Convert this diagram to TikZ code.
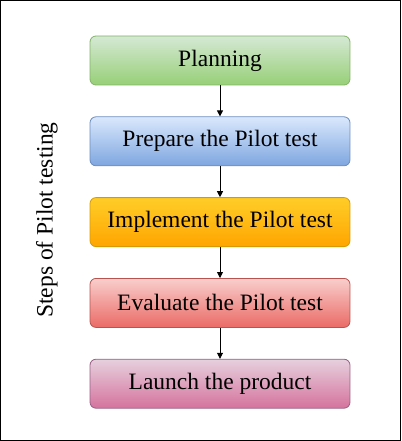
\documentclass[tikz,border=0pt]{standalone}
\usepackage{fontspec}
\setmainfont{Liberation Serif}
\usetikzlibrary{positioning,arrows.meta}
\definecolor{greenT}{HTML}{D5E8D4}\definecolor{greenB}{HTML}{97D077}\definecolor{greenD}{HTML}{82B366}
\definecolor{blueT}{HTML}{DAE8FC}\definecolor{blueB}{HTML}{7EA6E0}\definecolor{blueD}{HTML}{6C8EBF}
\definecolor{orangeT}{HTML}{FFCD28}\definecolor{orangeB}{HTML}{FFA500}\definecolor{orangeD}{HTML}{D79B00}
\definecolor{redT}{HTML}{F8CECC}\definecolor{redB}{HTML}{EA6B66}\definecolor{redD}{HTML}{B85450}
\definecolor{pinkT}{HTML}{E6D0DE}\definecolor{pinkB}{HTML}{D5739D}\definecolor{pinkD}{HTML}{996185}
\tikzset{
  stepbox/.style={rounded corners=6pt, minimum width=260pt, minimum height=49pt,
    font=\fontsize{23.5}{28}\selectfont, line width=0.8pt},
  greenbox/.style={stepbox, draw=greenD, top color=greenT, bottom color=greenB},
  bluebox/.style={stepbox, draw=blueD, top color=blueT, bottom color=blueB},
  orangebox/.style={stepbox, draw=orangeD, top color=orangeT, bottom color=orangeB},
  redbox/.style={stepbox, draw=redD, top color=redT, bottom color=redB},
  pinkbox/.style={stepbox, draw=pinkD, top color=pinkT, bottom color=pinkB},
  flow/.style={-{Triangle[length=6pt,width=6pt]}, line width=0.8pt}
}
\begin{document}
\begin{tikzpicture}[x=1pt,y=-1pt]
  % Frame
  \draw[line width=1pt] (0.5,0.5) rectangle (400.5,440.5);
  \useasboundingbox (0,0) rectangle (401,441);
  % Steps
  \node[greenbox] (plan) at (220,60.5) {Planning};
  \node[bluebox, below=31pt of plan] (prep) {Prepare the Pilot test};
  \node[orangebox, below=31pt of prep] (impl) {Implement the Pilot test};
  \node[redbox, below=31pt of impl] (eval) {Evaluate the Pilot test};
  \node[pinkbox, below=31pt of eval] (launch) {Launch the product};
  % Arrows
  \draw[flow] (plan) -- (prep);
  \draw[flow] (prep) -- (impl);
  \draw[flow] (impl) -- (eval);
  \draw[flow] (eval) -- (launch);
  % Side title
  \node[rotate=90, font=\fontsize{23.5}{28}\selectfont] (title) at (47,220) {Steps of Pilot testing};
\end{tikzpicture}
\end{document}
